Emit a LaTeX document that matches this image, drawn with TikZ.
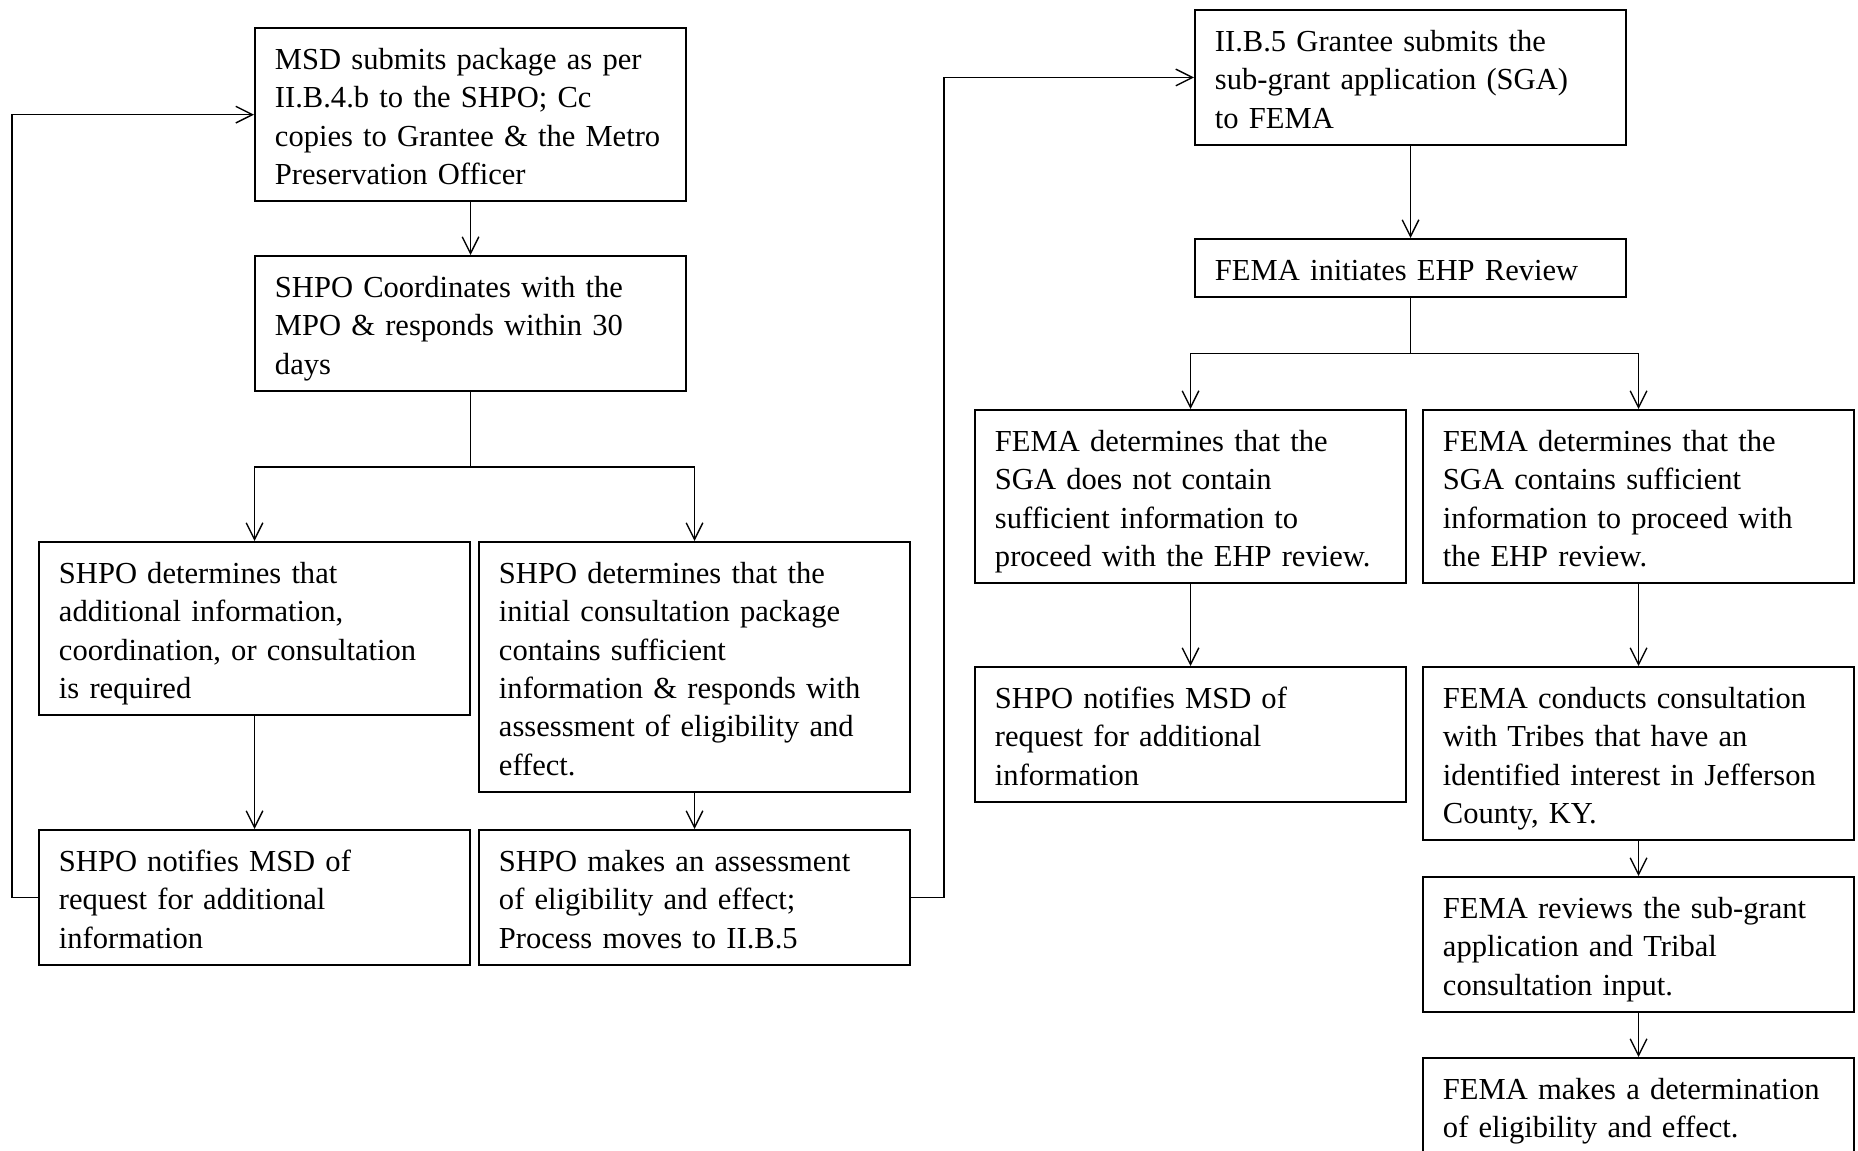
\documentclass[tikz,border=0pt]{standalone}
\usepackage{fontspec}
\setmainfont{Liberation Serif}
\usetikzlibrary{arrows.meta}

\newcommand{\boxstrut}{\rule[-2.5pt]{0pt}{13.8pt}}
\tikzset{
  stepbox/.style={draw, line width=0.7pt, anchor=north west, align=left,
    text width=140.8pt, inner xsep=7.2pt, inner ysep=3.6pt,
    font=\fontsize{11}{13.8}\selectfont,
    execute at begin node=\boxstrut, execute at end node=\boxstrut},
  flow/.style={line width=0.5pt, -{Straight Barb[length=6pt,width=6pt]}}
}

\begin{document}
\begin{tikzpicture}[x=0.36pt, y=-0.36pt]
  \useasboundingbox (0,0) rectangle (1858,1151);

  % SHPO side
  \node[stepbox] (msd) at (254,27) {MSD submits package as per\\II.B.4.b to the SHPO; Cc\\copies to Grantee \& the Metro\\Preservation Officer};
  \node[stepbox] (coord) at (254,255) {SHPO Coordinates with the\\MPO \& responds within 30\\days};
  \node[stepbox] (addinfo) at (38,541) {SHPO determines that\\additional information,\\coordination, or consultation\\is required};
  \node[stepbox] (suff) at (478,541) {SHPO determines that the\\initial consultation package\\contains sufficient\\information \& responds with\\assessment of eligibility and\\effect.};
  \node[stepbox] (notify) at (38,829) {SHPO notifies MSD of\\request for additional\\information};
  \node[stepbox] (assess) at (478,829) {SHPO makes an assessment\\of eligibility and effect;\\Process moves to II.B.5};

  % FEMA side
  \node[stepbox] (sga) at (1194,9) {II.B.5 Grantee submits the\\sub-grant application (SGA)\\to FEMA};
  \node[stepbox] (ehp) at (1194,238) {FEMA initiates EHP Review};
  \node[stepbox] (nosga) at (974,409) {FEMA determines that the\\SGA does not contain\\sufficient information to\\proceed with the EHP review.};
  \node[stepbox] (yessga) at (1422,409) {FEMA determines that the\\SGA contains sufficient\\information to proceed with\\the EHP review.};
  \node[stepbox] (fnotify) at (974,666) {SHPO notifies MSD of\\request for additional\\information};
  \node[stepbox] (tribes) at (1422,666) {FEMA conducts consultation\\with Tribes that have an\\identified interest in Jefferson\\County, KY.};
  \node[stepbox] (review) at (1422,876) {FEMA reviews the sub-grant\\application and Tribal\\consultation input.};
  \node[stepbox] (determ) at (1422,1057) {FEMA makes a determination\\of eligibility and effect.};

  \draw[flow] (msd) -- (coord);
  \draw[flow] (coord.south) -- ++(0,75) -| (addinfo.north);
  \draw[flow] (coord.south) -- ++(0,75) -| (suff.north);
  \draw[flow] (addinfo) -- (notify);
  \draw[flow] (suff) -- (assess);
  \draw[flow] (notify.west) -- ++(-26,0) |- (msd.west);
  \draw[flow] (assess.east) -- ++(33,0) |- (sga.west);

  \draw[flow] (sga) -- (ehp);
  \draw[flow] (ehp.south) -- ++(0,55) -| (nosga.north);
  \draw[flow] (ehp.south) -- ++(0,55) -| (yessga.north);
  \draw[flow] (nosga) -- (fnotify);
  \draw[flow] (yessga) -- (tribes);
  \draw[flow] (tribes) -- (review);
  \draw[flow] (review) -- (determ);
\end{tikzpicture}
\end{document}
